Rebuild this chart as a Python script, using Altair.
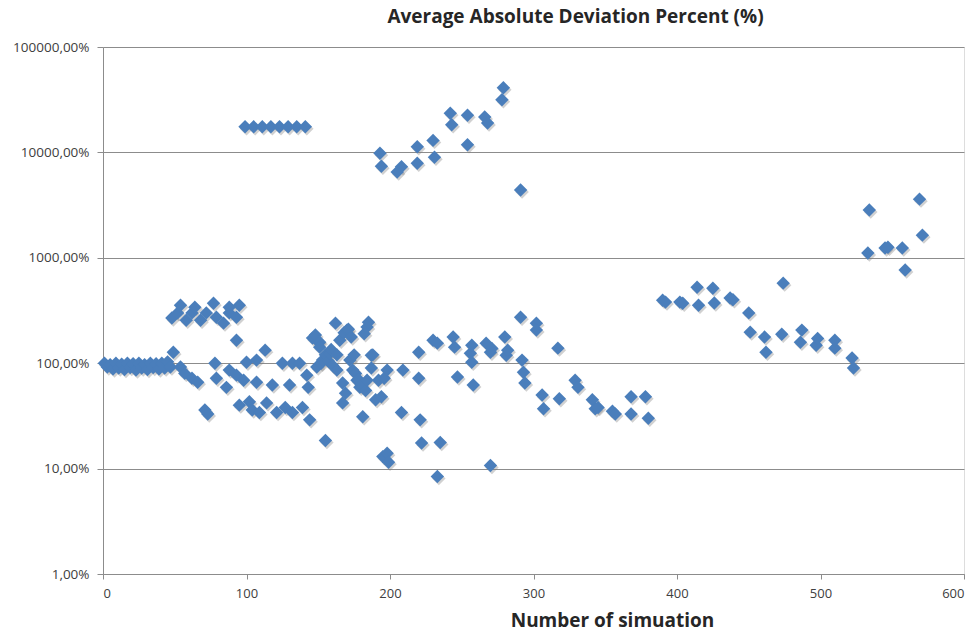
import altair as alt
import pandas as pd

# Simulation number and average absolute deviation (in percent)
sim_low = [1, 3, 5, 7, 9, 11, 13, 15, 17, 19, 21, 23, 25, 27, 29, 31, 33, 35, 37, 39, 41, 43, 45, 47,
           48, 49, 52, 54, 54, 57, 58, 62, 62, 64, 66, 68, 71, 72, 73, 77, 78, 79, 79, 84, 86, 88, 88, 88,
           93, 93, 93, 95, 95, 98, 100, 102, 104, 107, 107, 109, 113, 114, 118, 121, 125, 127, 130, 132,
           132, 137, 139, 142, 143, 144]
aad_low = [100, 92, 97, 88, 100, 90, 98, 87, 100, 91, 99, 86, 100, 90, 97, 87, 100, 91, 99, 88, 100, 90, 103, 92,
           268, 127, 300, 355, 92, 80, 256, 300, 72, 340, 66, 256, 36, 300, 33, 370, 100, 273, 72, 240, 59, 340, 300, 86,
           273, 77, 165, 355, 40, 69, 102, 43, 36, 107, 66, 34, 133, 42, 62, 34, 100, 38, 62, 100,
           34, 100, 38, 77, 59, 29]

sim_mid = [146, 148, 149, 150, 151, 151, 152, 153, 155, 155, 157, 158, 159, 160, 162, 163, 163, 165, 167, 167,
           168, 169, 170, 171, 172, 173, 174, 175, 176, 177, 178, 179, 180, 181, 182, 183, 184, 184, 185, 187,
           187, 188, 190, 192, 194, 195, 196, 198, 198, 199, 208, 209, 220, 220, 221, 222, 230, 233, 233, 235,
           244, 245, 247, 256, 257, 257, 258, 267, 270, 270, 271, 280, 281, 282, 291, 292, 293, 294, 302, 302,
           306, 307, 317, 318, 329, 331, 341, 343, 345, 355, 357, 368, 368, 378, 380]
aad_mid = [173, 185, 92, 160, 158, 142, 100, 107, 18.5, 120, 105, 124, 135, 95, 240, 86, 120, 165, 65, 42,
           195, 52, 206, 210, 107, 177, 86, 120, 80, 69, 70, 59, 62, 31, 190, 55, 69, 220, 245, 119,
           90, 120, 45, 69, 48, 13, 72, 14, 86, 11.5, 34, 86, 72, 127, 29, 17.5, 165, 155, 8.4, 17.7,
           177, 142, 74, 124, 148, 102, 62, 155, 127, 10.7, 138, 177, 119, 133, 273, 107, 82, 65, 240, 206,
           50, 37, 139, 46, 69, 59, 45, 37, 38, 35, 33, 48, 33, 48, 30]

sim_high = [99, 105, 111, 117, 123, 129, 135, 141, 193, 194, 205, 208, 219, 219, 230, 231, 242, 243,
            254, 254, 266, 268, 279, 278, 291]
aad_high = [17500, 17500, 17500, 17500, 17500, 17500, 17500, 17500, 9800, 7400, 6500, 7300, 11300, 7900,
            13000, 9000, 23500, 18300, 22500, 11800, 21700, 19000, 41000, 31600, 4400]

sim_right = [390, 392, 402, 404, 414, 415, 425, 426, 437, 439, 450, 451, 461, 462, 473, 474, 486, 487,
             497, 498, 510, 510, 522, 523, 533, 534, 545, 547, 557, 559, 569, 571]
aad_right = [396, 380, 380, 370, 525, 355, 515, 372, 415, 400, 300, 197, 177, 127, 188, 575, 158, 206,
             148, 172, 139, 165, 112, 90, 1110, 2840, 1240, 1260, 1240, 765, 3600, 1640]

y_ticks = [1, 10, 100, 1000, 10000, 100000]
x_ticks = [0, 100, 200, 300, 400, 500, 600]

df = pd.DataFrame({
    "sim": sim_low + sim_mid + sim_high + sim_right,
    "aad": aad_low + aad_mid + aad_high + aad_right,
})

FONT = "Open Sans"
GRID = "#8c8c8c"
TEXT = "#404040"

x_enc = alt.X(
    "sim:Q",
    scale=alt.Scale(domain=[0, 600], nice=False),
    axis=alt.Axis(
        values=x_ticks, grid=False, domainColor=GRID, tickColor=GRID, tickSize=5,
        labelFont=FONT, labelFontSize=13, labelColor=TEXT, labelPadding=8,
        title="Number of simuation", titleFont=FONT, titleFontSize=19,
        titleFontWeight="bold", titleColor="#262626", titleX=509, titleY=37,
    ),
)
y_enc = alt.Y(
    "aad:Q",
    scale=alt.Scale(type="log", domain=[1, 100000], nice=False),
    axis=alt.Axis(
        values=y_ticks, grid=True, gridColor=GRID, gridWidth=1,
        domainColor=GRID, tickColor=GRID, tickSize=6,
        labelFont=FONT, labelFontSize=13.5, labelColor=TEXT, labelPadding=8,
        labelExpr="replace(format(datum.value, '.2f'), '.', ',') + '%'",
        title=None,
    ),
)

shadow = alt.Chart(df).mark_point(
    shape="diamond", filled=True, size=180, color="#7a7a7a", opacity=0.35,
    xOffset=1.5, yOffset=2,
).encode(x=x_enc, y=y_enc)

points = alt.Chart(df).mark_point(
    shape="diamond", filled=True, size=180, color="#4a7ebb", opacity=1,
).encode(x=x_enc, y=y_enc)

chart = (
    alt.layer(shadow, points)
    .properties(
        width=861, height=527,
        title=alt.TitleParams(
            "Average Absolute Deviation Percent (%)", font=FONT, fontSize=19,
            fontWeight="bold", color="#262626", anchor="middle", dx=42, offset=13,
        ),
        autosize=alt.AutoSizeParams(type="none"),
        padding={"left": 103, "top": 47, "right": 14, "bottom": 60},
    )
    .configure_view(stroke=None)
    .configure(background="white")
)

chart.save("out.html", embed_options={"renderer": "svg", "actions": False})
